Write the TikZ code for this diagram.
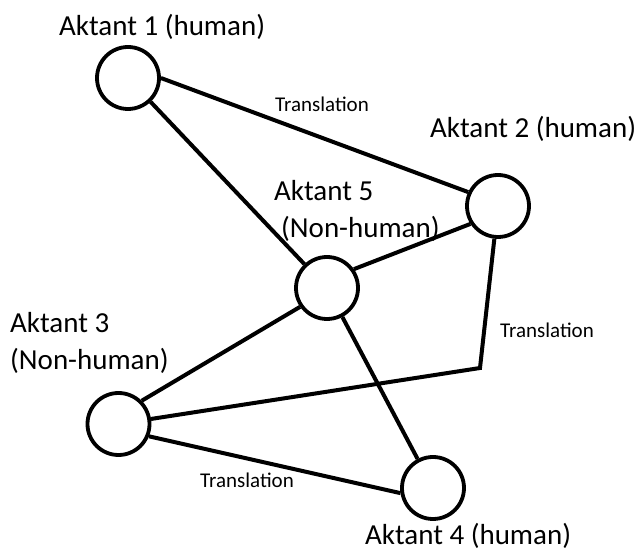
\documentclass[tikz,border=0pt]{standalone}
\usepackage{fontspec}
\setmainfont{Carlito}
\usepackage{tikz}
\usetikzlibrary{positioning}
\tikzset{
  aktant/.style = {circle, draw=black, line width=3.8pt, fill=white,
                   minimum size=62pt, inner sep=0pt},
  lbl/.style    = {inner sep=0pt, anchor=base west, align=left,
                   font=\fontsize{29}{37}\selectfont},
  trans/.style  = {inner sep=0pt, anchor=base west,
                   font=\fontsize{21}{25}\selectfont},
  link/.style   = {line width=4pt, draw=black},
}

\begin{document}
\begin{tikzpicture}[x=1pt, y=-1pt]
\useasboundingbox (0,0) rectangle (641,553);

%% actors
\node[aktant] (a1) at (128,78)    {};
\node[aktant] (a2) at (498,206)   {};
\node[aktant] (a5) at (327,288)   {};
\node[aktant] (a3) at (118.5,424) {};
\node[aktant] (a4) at (433,488)   {};

%% network links
\draw[link] (a1.east) -- (a2.155);
\draw[link] (a1) -- (a5);
\draw[link] (a5.35) -- (a2.213);
\draw[link] (a3.45) -- (a5.215);
\draw[link] (a5) -- (a4);
\draw[link] (a3.-22) -- (a4.189);
\coordinate (knick) at (480,368);
\draw[link] (a3) -- (knick) -- (a2);

%% actor names (two-line nodes sit on their last baseline)
\node[lbl] (l1) at (59,36)   {Aktant 1 (human)};
\node[lbl] (l2) at (430,138) {Aktant 2 (human)};
\node[lbl] (l5) at (274,238) {Aktant 5\\\hspace*{7pt}(Non-human)};
\node[lbl] (l3) at (10,370)  {Aktant 3\\(Non-human)};
\node[lbl] (l4) at (365,545) {Aktant 4 (human)};

%% translations
\node[trans] (t12) at (275,112) {Translation};
\node[trans] (t32) at (500,338) {Translation};
\node[trans] (t34) at (200,488) {Translation};

\end{tikzpicture}
\end{document}
